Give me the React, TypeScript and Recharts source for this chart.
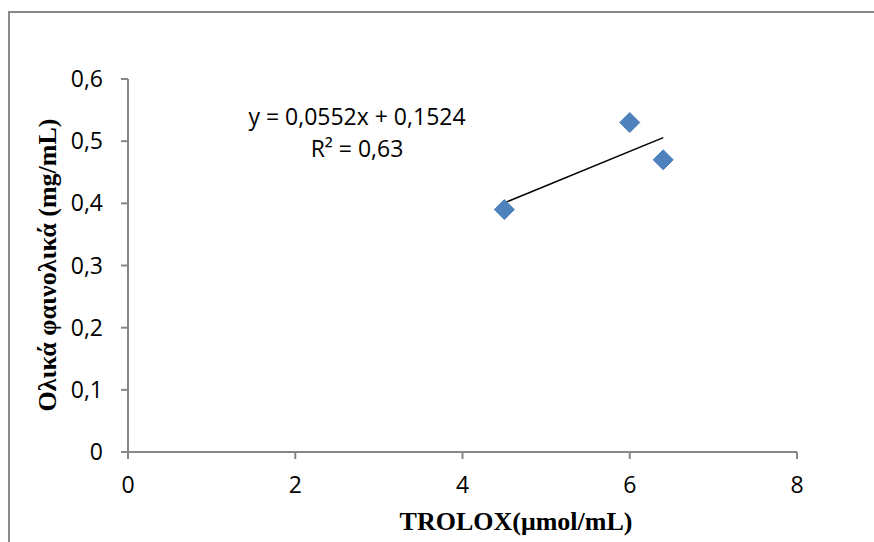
import React from "react";
import { ScatterChart, Scatter, XAxis, YAxis } from "recharts";

// measured values: TROLOX (µmol/mL) vs total phenolics (mg/mL)
const trolox = [4.5, 6.0, 6.4];
const phenolics = [0.39, 0.53, 0.47];

const xTicks = [0, 2, 4, 6, 8];
const yTicks = [0, 0.1, 0.2, 0.3, 0.4, 0.5, 0.6];

// linear trendline shown on the chart
const slope = 0.0552;
const intercept = 0.1524;
const rSquared = "0,63";

const points = trolox.map((x, i) => ({ x, y: phenolics[i] }));
const trendRange = [Math.min(...trolox), Math.max(...trolox)];
const trend = trendRange.map((x) => ({ x, y: slope * x + intercept }));

const comma = (v: number) => String(v).replace(".", ",");

const TICK_FONT = "'Open Sans', sans-serif";
const TITLE_FONT = "'Liberation Serif', 'Times New Roman', serif";
const AXIS_GREY = "#868686";

function Diamond(props: any) {
  const { cx, cy } = props;
  const r = 10;
  return (
    <polygon
      points={`${cx},${cy - r} ${cx + r},${cy} ${cx},${cy + r} ${cx - r},${cy}`}
      fill="#4F81BD"
      stroke="#4A7EBB"
      strokeWidth={1}
    />
  );
}

export default function App() {
  return (
    <div
      style={{
        position: "fixed",
        left: 0,
        top: 0,
        width: 874,
        height: 542,
        overflow: "hidden",
        background: "#fff",
      }}
    >
      <div
        style={{
          position: "absolute",
          left: 8,
          top: 11,
          width: 900,
          height: 600,
          border: "2px solid #8a8a8a",
        }}
      />
      <ScatterChart
        width={874}
        height={542}
        margin={{ top: 79, right: 77, bottom: 60, left: 68 }}
        style={{ position: "absolute", left: 0, top: 0 }}
      >
        <XAxis
          type="number"
          dataKey="x"
          domain={[0, 8]}
          ticks={xTicks}
          tickFormatter={comma}
          height={30}
          tickSize={7}
          tickMargin={18}
          stroke={AXIS_GREY}
          strokeWidth={2}
          tick={{ fill: "#000", fontSize: 23, fontFamily: TICK_FONT }}
        />
        <YAxis
          type="number"
          dataKey="y"
          domain={[0, 0.6]}
          ticks={yTicks}
          tickFormatter={comma}
          width={60}
          tickSize={7}
          tickMargin={18}
          stroke={AXIS_GREY}
          strokeWidth={2}
          tick={{ fill: "#000", fontSize: 23, fontFamily: TICK_FONT }}
        />
        <Scatter
          data={trend}
          line={{ stroke: "#000", strokeWidth: 1.5 }}
          shape={() => <g />}
          isAnimationActive={false}
        />
        <Scatter data={points} shape={<Diamond />} isAnimationActive={false} />
      </ScatterChart>

      <div
        style={{
          position: "absolute",
          left: 357,
          top: 132,
          transform: "translate(-50%, -50%)",
          textAlign: "center",
          fontFamily: TICK_FONT,
          fontSize: 23,
          lineHeight: "32px",
          whiteSpace: "nowrap",
          color: "#000",
        }}
      >
        <div>{`y = ${comma(slope)}x + ${comma(intercept)}`}</div>
        <div>{`R² = ${rSquared}`}</div>
      </div>

      <div
        style={{
          position: "absolute",
          left: 516,
          top: 522,
          transform: "translate(-50%, -50%)",
          fontFamily: TITLE_FONT,
          fontWeight: "bold",
          fontSize: 26,
          whiteSpace: "nowrap",
          color: "#000",
        }}
      >
        TROLOX(μmol/mL)
      </div>

      <div
        style={{
          position: "absolute",
          left: 48,
          top: 265,
          transform: "translate(-50%, -50%) rotate(-90deg)",
          fontFamily: TITLE_FONT,
          fontWeight: "bold",
          fontSize: 26,
          whiteSpace: "nowrap",
          color: "#000",
        }}
      >
        Ολικά φαινολικά (mg/mL)
      </div>
    </div>
  );
}
